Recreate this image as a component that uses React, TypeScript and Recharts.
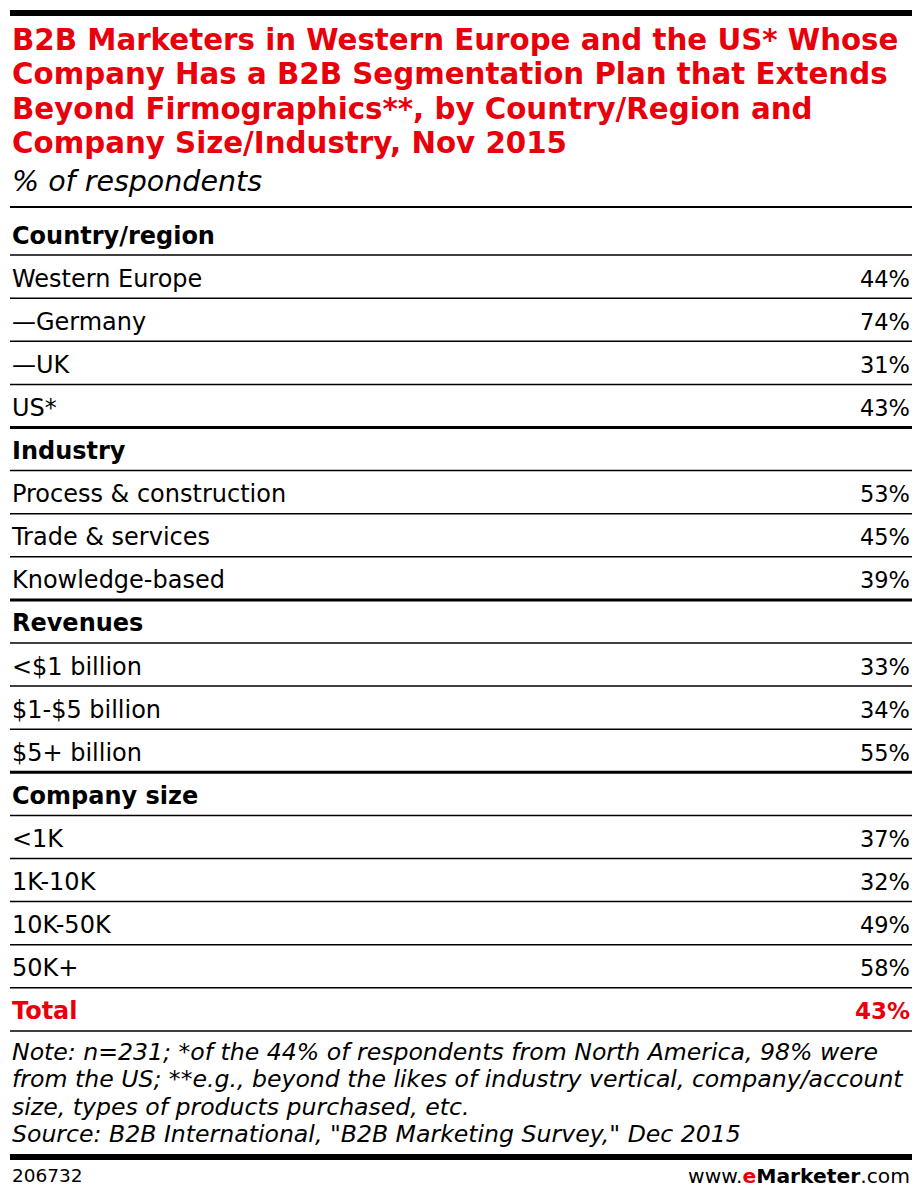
import React from 'react';
import { BarChart, Bar, XAxis, YAxis } from 'recharts';

const sectionNames = ['Country/region', 'Industry', 'Revenues', 'Company size'];
const sectionItems = [
  ['Western Europe', '—Germany', '—UK', 'US*'],
  ['Process & construction', 'Trade & services', 'Knowledge-based'],
  ['<$1 billion', '$1-$5 billion', '$5+ billion'],
  ['<1K', '1K-10K', '10K-50K', '50K+'],
];
const sectionValues = [
  [44, 74, 31, 43],
  [53, 45, 39],
  [33, 34, 55],
  [37, 32, 49, 58],
];
const totalLabel = 'Total';
const totalValue = 43;

const titleLines = [
  'B2B Marketers in Western Europe and the US* Whose',
  'Company Has a B2B Segmentation Plan that Extends',
  'Beyond Firmographics**, by Country/Region and',
  'Company Size/Industry, Nov 2015',
];
const subtitle = '% of respondents';
const noteLines = [
  'Note: n=231; *of the 44% of respondents from North America, 98% were',
  'from the US; **e.g., beyond the likes of industry vertical, company/account',
  'size, types of products purchased, etc.',
  'Source: B2B International, "B2B Marketing Survey," Dec 2015',
];
const chartId = '206732';

type Row = { label: string; value: number | null; kind: 'header' | 'item' | 'total'; sectionEnd: boolean };

const rows: Row[] = [];
sectionNames.forEach((name, s) => {
  rows.push({ label: name, value: null, kind: 'header', sectionEnd: false });
  sectionItems[s].forEach((label, i) => {
    rows.push({
      label,
      value: sectionValues[s][i],
      kind: 'item',
      sectionEnd: i === sectionItems[s].length - 1 && s < sectionNames.length - 1,
    });
  });
});
rows.push({ label: totalLabel, value: totalValue, kind: 'total', sectionEnd: false });

const RED = '#e8000b';
const FONT = '"DejaVu Sans", sans-serif';
const W = 906;
const BAND = 43.1;
const TOP = 5;
const CHART_H = TOP + BAND * rows.length + 2;

const rowByLabel = (label: string) => rows.find((r) => r.label === label) as Row;

function RowTick(props: any) {
  const { y, payload } = props;
  const row = rowByLabel(payload.value);
  const bold = row.kind !== 'item';
  const fill = row.kind === 'total' ? RED : '#000';
  const lineY = y + BAND / 2;
  return (
    <g>
      <text
        x={4}
        y={y + 2}
        dominantBaseline="central"
        fontFamily={FONT}
        fontSize={bold ? 24 : 24}
        fontWeight={bold ? 700 : 400}
        fill={fill}
      >
        {row.label}
      </text>
      {row.value !== null && (
        <text
          x={902}
          y={y + 2}
          textAnchor="end"
          dominantBaseline="central"
          fontFamily={FONT}
          fontSize={bold ? 23 : 22.5}
          fontWeight={bold ? 700 : 400}
          fill={fill}
        >
          {row.value}%
        </text>
      )}
      <line x1={2} x2={904} y1={lineY} y2={lineY} stroke="#000" strokeWidth={row.sectionEnd ? 3 : 1.5} />
    </g>
  );
}

export default function App() {
  return (
    <div style={{ position: 'relative', width: W, height: 1184, fontFamily: FONT, background: '#fff' }}>
      <div style={{ position: 'absolute', left: 2, top: 2, width: 902, height: 6, background: '#000' }} />
      <div
        style={{
          position: 'absolute',
          left: 4,
          top: 15,
          color: RED,
          fontWeight: 700,
          fontSize: 29.3,
          lineHeight: '34.3px',
          whiteSpace: 'nowrap',
        }}
      >
        {titleLines.map((t) => (
          <div key={t}>{t}</div>
        ))}
      </div>
      <div
        style={{
          position: 'absolute',
          left: 4,
          top: 157,
          fontStyle: 'italic',
          fontSize: 28.5,
          lineHeight: '34px',
          color: '#000',
        }}
      >
        {subtitle}
      </div>
      <div style={{ position: 'absolute', left: 2, top: 198, width: 902, height: 1.5, background: '#000' }} />
      <div style={{ position: 'absolute', left: 0, top: 199, width: W, height: CHART_H }}>
        <BarChart
          width={W}
          height={CHART_H}
          data={rows}
          layout="vertical"
          margin={{ top: TOP, right: 0, bottom: 2, left: 0 }}
          barCategoryGap={0}
        >
          <XAxis type="number" domain={[0, 100]} hide />
          <YAxis
            type="category"
            dataKey="label"
            width={1}
            axisLine={false}
            tickLine={false}
            interval={0}
            tick={RowTick}
          />
          <Bar dataKey="value" fill="#000" fillOpacity={0} isAnimationActive={false} />
        </BarChart>
      </div>
      <div
        style={{
          position: 'absolute',
          left: 4,
          top: 1031,
          fontStyle: 'italic',
          fontSize: 23.6,
          lineHeight: '27.3px',
          whiteSpace: 'nowrap',
          color: '#000',
        }}
      >
        {noteLines.map((t) => (
          <div key={t}>{t}</div>
        ))}
      </div>
      <div style={{ position: 'absolute', left: 2, top: 1146, width: 902, height: 6, background: '#000' }} />
      <div style={{ position: 'absolute', left: 4, top: 1156, fontSize: 18.5, lineHeight: '24px', color: '#000' }}>
        {chartId}
      </div>
      <div
        style={{
          position: 'absolute',
          right: 4,
          top: 1155,
          fontSize: 20.3,
          lineHeight: '26px',
          color: '#000',
        }}
      >
        www.<span style={{ color: RED, fontWeight: 700 }}>e</span>
        <span style={{ fontWeight: 700 }}>Marketer</span>.com
      </div>
    </div>
  );
}
